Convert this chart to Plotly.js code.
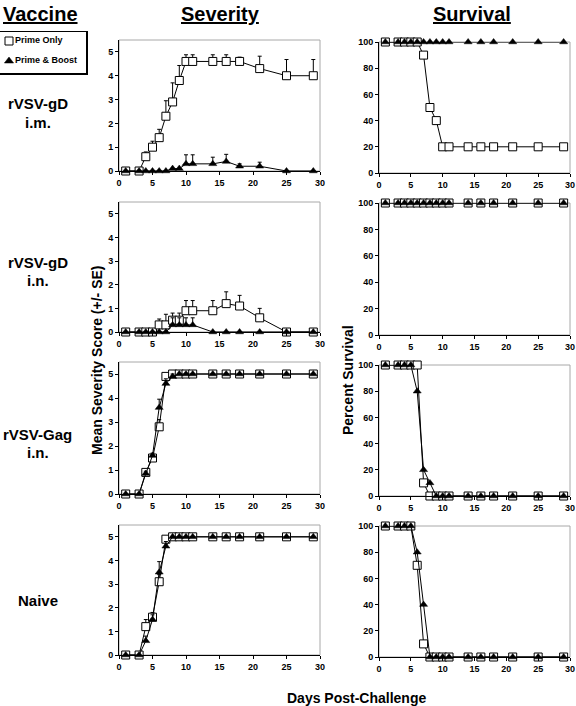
<!DOCTYPE html>
<html><head><meta charset="utf-8">
<script src="https://cdn.plot.ly/plotly-3.0.1.min.js"></script>
<style>html,body{margin:0;padding:0;background:#fff}#chart{width:576px;height:706px}</style>
</head><body><div id="chart"></div>
<script>
// ---------- data ----------
const days = [1,3,4,5,6,7,8,9,10,11,14,16,18,21,25,29];
const seriesNames = ['Prime Only','Prime & Boost'];
const rowLabels = [['rVSV-gD','i.m.'],['rVSV-gD','i.n.'],['rVSV-Gag','i.n.'],['Naive']];

// Severity (mean score) and upper SE, row 1: rVSV-gD i.m.
const sevGdImPrime   = [0,0,0.6,1.0,1.4,2.3,2.9,3.8,4.6,4.6,4.6,4.6,4.6,4.3,4.0,4.0];
const sevGdImPrimeSE = [null,null,0.2,0.25,0.35,0.65,0.8,0.63,0.28,0.28,0.28,0.28,0.18,0.52,0.68,0.68];
const sevGdImBoost   = [0,0,0,0,0,0,0.1,0.1,0.3,0.3,0.3,0.4,0.2,0.2,0,0];
const sevGdImBoostSE = [null,null,null,null,null,null,null,null,0.38,0.38,0.28,0.3,0.1,0.17,null,null];
// row 2: rVSV-gD i.n.
const sevGdInPrime   = [0,0,0,0,0.3,0.3,0.5,0.5,0.9,0.9,0.9,1.2,1.1,0.6,0,0];
const sevGdInPrimeSE = [null,null,null,null,0.25,0.45,0.3,0.3,0.43,0.43,0.43,0.5,0.45,0.4,null,null];
const sevGdInBoost   = [0,0,0,0,0,0,0.3,0.3,0.3,0.3,0,0,0,0,0,0];
const sevGdInBoostSE = [null,null,null,null,null,null,0.3,0.3,0.3,0.3,null,null,null,null,null,null];
// row 3: rVSV-Gag i.n.
const sevGagPrime    = [0,0,0.9,1.5,2.8,4.9,5,5,5,5,5,5,5,5,5,5];
const sevGagPrimeSE  = [null,null,0.1,0.1,0.3,0.1,null,null,null,null,null,null,null,null,null,null];
const sevGagBoost    = [0,0,0.85,1.6,3.6,4.6,4.9,5,5,5,5,5,5,5,5,5];
const sevGagBoostSE  = [null,null,0.1,0.1,0.35,0.2,0.1,null,null,null,null,null,null,null,null,null];
// row 4: Naive
const sevNaivePrime   = [0,0,1.2,1.6,3.1,4.9,5,5,5,5,5,5,5,5,5,5];
const sevNaivePrimeSE = [null,null,0.3,0.2,0.3,0.1,null,null,null,null,null,null,null,null,null,null];
const sevNaiveBoost   = [0,0,0.6,1.5,3.5,4.6,5,5,5,5,5,5,5,5,5,5];
const sevNaiveBoostSE = [null,null,0.2,0.2,0.45,0.2,null,null,null,null,null,null,null,null,null,null];

// Percent survival
const survGdImPrime  = [100,100,100,100,100,90,50,40,20,20,20,20,20,20,20,20];
const survGdImBoost  = [100,100,100,100,100,100,100,100,100,100,100,100,100,100,100,100];
const survGdInPrime  = [100,100,100,100,100,100,100,100,100,100,100,100,100,100,100,100];
const survGdInBoost  = [100,100,100,100,100,100,100,100,100,100,100,100,100,100,100,100];
const survGagPrime   = [100,100,100,100,100,10,0,0,0,0,0,0,0,0,0,0];
const survGagBoost   = [100,100,100,100,80,20,10,0,0,0,0,0,0,0,0,0];
const survNaivePrime = [100,100,100,100,70,10,0,0,0,0,0,0,0,0,0,0];
const survNaiveBoost = [100,100,100,100,80,40,0,0,0,0,0,0,0,0,0,0];

const xTicks = [0,5,10,15,20,25,30];
const sevTicks = [0,1,2,3,4,5];
const survTicks = [0,20,40,60,80,100];

// ---------- layout geometry (pixels) ----------
const W = 576, H = 706;
const FONT = '"Liberation Sans", Arial, sans-serif';
const sevX = [119,320], survX = [379,570];
const sevRows  = [[40,171],[202,332],[362,494],[525,655]];
const survRows = [[42,173],[203,335],[365,496],[526,657]];

const sevData = [
  [sevGdImPrime,sevGdImPrimeSE,sevGdImBoost,sevGdImBoostSE],
  [sevGdInPrime,sevGdInPrimeSE,sevGdInBoost,sevGdInBoostSE],
  [sevGagPrime,sevGagPrimeSE,sevGagBoost,sevGagBoostSE],
  [sevNaivePrime,sevNaivePrimeSE,sevNaiveBoost,sevNaiveBoostSE]
];
const survData = [
  [survGdImPrime,survGdImBoost],[survGdInPrime,survGdInBoost],
  [survGagPrime,survGagBoost],[survNaivePrime,survNaiveBoost]
];

const primeMarker = {symbol:'square', size:8, color:'#ffffff', line:{color:'#000', width:1}};
const boostMarker = {symbol:'triangle-up', size:7, color:'#000', line:{color:'#000', width:0.5}};
const lineStyle = {color:'#000', width:1};

function px2x(p){return p/W;}
function px2y(p){return 1 - p/H;}

const traces = [];
const layout = {
  width: W, height: H, margin:{l:0,r:0,t:0,b:0},
  paper_bgcolor:'#fff', plot_bgcolor:'rgba(0,0,0,0)',
  showlegend:false, font:{family:FONT, color:'#000'},
  shapes:[], annotations:[]
};

function errObj(se){
  return {type:'data', symmetric:false, array:se, arrayminus:se.map(()=>0),
          color:'#000', thickness:1, width:2, visible:true};
}

function axisBase(){
  return {showgrid:false, zeroline:false, showline:true, linecolor:'#000', linewidth:1,
          ticks:'outside', ticklen:3, tickcolor:'#000', tickwidth:1,
          tickfont:{family:FONT, size:9, weight:'bold', color:'#000'}, fixedrange:true};
}

for (let r = 0; r < 4; r++) {
  const iS = 2*r + 1, iV = 2*r + 2;
  const xs = 'x' + iS, ys = 'y' + iS, xv = 'x' + iV, yv = 'y' + iV;
  const [sp, spSE, sb, sbSE] = sevData[r];
  traces.push({type:'scatter', mode:'lines+markers', x:days, y:sp, xaxis:xs, yaxis:ys,
    name:seriesNames[0], line:lineStyle, marker:primeMarker, error_y:errObj(spSE), cliponaxis:false});
  traces.push({type:'scatter', mode:'lines+markers', x:days, y:sb, xaxis:xs, yaxis:ys,
    name:seriesNames[1], line:lineStyle, marker:boostMarker, error_y:errObj(sbSE), cliponaxis:false});
  const [vp, vb] = survData[r];
  traces.push({type:'scatter', mode:'lines+markers', x:days, y:vp, xaxis:xv, yaxis:yv,
    name:seriesNames[0], line:lineStyle, marker:primeMarker, cliponaxis:false});
  traces.push({type:'scatter', mode:'lines+markers', x:days, y:vb, xaxis:xv, yaxis:yv,
    name:seriesNames[1], line:lineStyle, marker:boostMarker, cliponaxis:false});

  const sfx = n => (n === 1 ? '' : String(n));
  layout['xaxis' + sfx(iS)] = Object.assign(axisBase(), {domain:[px2x(sevX[0]), px2x(sevX[1])],
    range:[0,30], tickvals:xTicks, anchor:ys});
  layout['yaxis' + sfx(iS)] = Object.assign(axisBase(), {domain:[px2y(sevRows[r][1]), px2y(sevRows[r][0])],
    range:[0,5.5], tickvals:sevTicks, anchor:xs});
  layout['xaxis' + iV] = Object.assign(axisBase(), {domain:[px2x(survX[0]), px2x(survX[1])],
    range:[0,30], tickvals:xTicks, anchor:yv});
  layout['yaxis' + iV] = Object.assign(axisBase(), {domain:[px2y(survRows[r][1]), px2y(survRows[r][0])],
    range:[0,100], tickvals:survTicks, anchor:xv});

  // grey plot-area frame (top/right edges)
  [[xs,ys],[xv,yv]].forEach(([xa,ya]) => {
    layout.shapes.push({type:'rect', xref:xa+' domain', yref:ya+' domain', x0:0, x1:1, y0:0, y1:1,
      line:{color:'#a8a8a8', width:1}, layer:'below'});
  });
}

// ---------- legend (own small axes) ----------
traces.push({type:'scatter', mode:'markers+text', x:[0], y:[seriesNames[0]], xaxis:'x9', yaxis:'y9',
  marker:primeMarker, text:[seriesNames[0]], textposition:'middle right',
  textfont:{family:FONT, size:9, weight:'bold', color:'#000'}, cliponaxis:false, hoverinfo:'skip'});
traces.push({type:'scatter', mode:'markers+text', x:[0], y:[seriesNames[1]], xaxis:'x9', yaxis:'y9',
  marker:Object.assign({}, boostMarker, {size:8}), text:[seriesNames[1]], textposition:'middle right',
  textfont:{family:FONT, size:9, weight:'bold', color:'#000'}, cliponaxis:false, hoverinfo:'skip'});
const legAxis = {showgrid:false, zeroline:false, showline:true, mirror:true, linecolor:'#000', linewidth:1.5,
  ticks:'', showticklabels:false, fixedrange:true};
layout.xaxis9 = Object.assign({}, legAxis, {domain:[0, px2x(86)], range:[-1, 8.555], anchor:'y9'});
layout.yaxis9 = Object.assign({}, legAxis, {domain:[px2y(73), px2y(32)], range:[-0.6, 1.45], anchor:'x9',
  type:'category', categoryorder:'array', categoryarray:[seriesNames[1], seriesNames[0]]});

// ---------- text ----------
function ann(text, xp, yp, size, extra){
  layout.annotations.push(Object.assign({text:text, xref:'paper', yref:'paper', x:px2x(xp), y:px2y(yp),
    xanchor:'center', yanchor:'middle', showarrow:false,
    font:{family:FONT, size:size, weight:'bold', color:'#000'}}, extra||{}));
}
ann('<u>Vaccine</u>', 40.5, 14, 20);
ann('<u>Severity</u>', 220, 14, 20);
ann('<u>Survival</u>', 472, 14, 20);

const rowLabelY = [[104,122],[262,280],[434,452],[600]];
rowLabels.forEach((lines, r) => {
  lines.forEach((t, k) => ann(t, 37.5, rowLabelY[r][k], 15));
});

ann('Mean Severity Score (+/- SE)', 97, 361, 14, {textangle:-90});
ann('Percent Survival', 348, 380, 14, {textangle:-90});
ann('Days Post-Challenge', 356, 698, 14);

Plotly.newPlot('chart', traces, layout, {staticPlot:true, displayModeBar:false});
</script>
</body></html>
